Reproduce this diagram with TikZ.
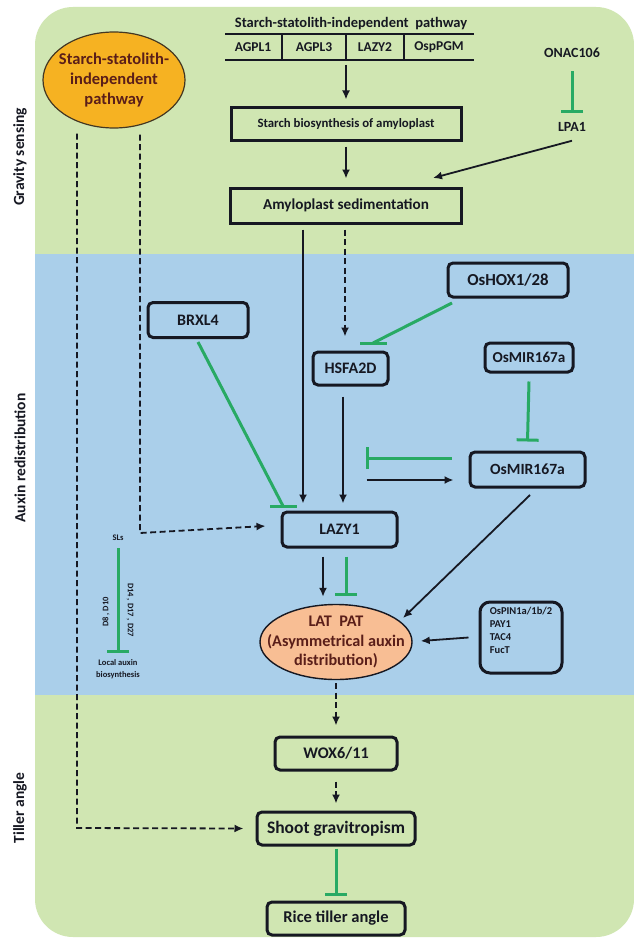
\documentclass[tikz,border=0pt]{standalone}
\usepackage{fontspec}
\setmainfont{Carlito}
\usetikzlibrary{arrows.meta,shapes.geometric,calc}
\definecolor{greenbg}{RGB}{208,230,178}
\definecolor{bluebg}{RGB}{170,207,234}
\definecolor{orangeel}{RGB}{246,178,34}
\definecolor{peach}{RGB}{248,190,148}
\definecolor{inhg}{RGB}{40,170,100}
\definecolor{ink}{RGB}{22,24,34}
\definecolor{brownt}{RGB}{90,30,25}
\tikzset{
 bx/.style={draw=ink, line width=3pt, rounded corners=5pt, inner sep=0pt, font=\bfseries\fontsize{16}{18}\selectfont, text=ink},
 sqbx/.style={bx, rounded corners=0pt},
 arr/.style={draw=ink, line width=1.8pt, -{Latex[length=9pt,width=8pt]}},
 darr/.style={arr, dash pattern=on 6pt off 3.5pt},
 inh/.style={draw=inhg, line width=3pt, -{Bar[width=22pt]}},
 inhl/.style={draw=inhg, line width=3pt},
 sidelbl/.style={font=\bfseries\fontsize{15.5}{17}\selectfont, text=ink, rotate=90},
 plain/.style={font=\bfseries\fontsize{13.5}{15}\selectfont, text=ink, inner sep=1pt},
 eltext/.style={align=center, inner sep=0pt, text=brownt},
}
\begin{document}
\begin{tikzpicture}[x=1pt,y=-1pt]
\useasboundingbox (0,0) rectangle (634,939);
\fill[white] (0,0) rectangle (634,939);
\fill[greenbg, rounded corners=38pt] (35,7) rectangle (634,937);
\fill[bluebg] (35,254) rectangle (634,695);

% side labels
\node[sidelbl] (lg) at (20,157) {Gravity sensing};
\node[sidelbl] (la) at (20,458) {Auxin redistribution};
\node[sidelbl] (lt) at (20,808) {Tiller angle};

% top table
\node[plain, font=\bfseries\fontsize{14.5}{16}\selectfont] (title) at (351,24) {Starch-statolith-independent\ \ pathway};
\draw[ink, line width=1.6pt] (225,34) -- (474,34);
\draw[ink, line width=1.6pt] (225,60) -- (474,60);
\foreach \xx in {282,346,404} \draw[ink, line width=1.6pt] (\xx,34) -- (\xx,60);
\node[plain] (c1) at (253,47.5) {AGPL1};
\node[plain] (c2) at (314,47.5) {AGPL3};
\node[plain] (c3) at (375,47.5) {LAZY2};
\node[plain] (c4) at (439,47.5) {OspPGM};
\coordinate (tblb) at (346,65);

% orange ellipse
\node[ellipse, draw=ink!80!orangeel, line width=1.2pt, fill=orangeel, minimum width=142pt, minimum height=96pt, inner sep=0pt] (sip) at (114,80) {};
\node[eltext, font=\bfseries\fontsize{16.5}{20}\selectfont] (siptext) at (sip.center) {Starch-statolith-\\independent\\pathway};

% gravity boxes
\node[sqbx, minimum width=230pt, minimum height=32pt, font=\bfseries\fontsize{12.8}{15}\selectfont] (starch) at (346,124) {Starch biosynthesis of amyloplast};
\node[sqbx, minimum width=231pt, minimum height=35pt, font=\bfseries\fontsize{15.2}{17}\selectfont] (amylo) at (346,205.5) {Amyloplast sedimentation};
\node[plain, font=\bfseries\fontsize{14}{16}\selectfont] (onac) at (572,53) {ONAC106};
\node[plain, font=\bfseries\fontsize{14}{16}\selectfont] (lpa) at (572,127) {LPA1};

% auxin boxes
\node[bx, minimum width=120pt, minimum height=34pt, font=\bfseries\fontsize{16.8}{18}\selectfont] (hox) at (508,280) {OsHOX1/28};
\node[bx, minimum width=100pt, minimum height=35pt] (brx) at (198,320) {BRXL4};
\node[bx, minimum width=75pt, minimum height=33pt] (hsf) at (350.5,368.5) {HSFA2D};
\node[bx, minimum width=88pt, minimum height=29pt, font=\bfseries\fontsize{15.2}{17}\selectfont] (mirt) at (529,357.5) {OsMIR167a};
\node[bx, minimum width=115pt, minimum height=35pt, font=\bfseries\fontsize{15.6}{17}\selectfont] (mirl) at (527.5,469.5) {OsMIR167a};
\node[bx, minimum width=115pt, minimum height=35pt] (lazy) at (339.5,529.5) {LAZY1};
\node[ellipse, draw=ink, line width=1.4pt, fill=peach, minimum width=152pt, minimum height=75pt, inner sep=0pt] (lat) at (336,642) {};
\node[eltext, font=\bfseries\fontsize{16.2}{19.5}\selectfont] (lattext) at (lat.center) {LAT\ \ PAT\\(Asymmetrical auxin\\distribution)};
\node[bx, rounded corners=10pt, minimum width=82pt, minimum height=71pt, align=left,
      font=\bfseries\fontsize{10.5}{13}\selectfont] (pin) at (521,637.5)
      {OsPIN1a/1b/2\\PAY1\\TAC4\\FucT\\[-2pt]\strut};

% SLs
\node[plain, font=\bfseries\fontsize{8.5}{10}\selectfont] (sls) at (118,538) {SLs};
\node[plain, align=center, font=\bfseries\fontsize{8.5}{12}\selectfont] (lab) at (118,669) {Local auxin\\biosynthesis};
\node[plain, rotate=90, font=\bfseries\fontsize{8.5}{10}\selectfont] (d8) at (106,612) {D8 , D10};
\node[plain, rotate=-90, font=\bfseries\fontsize{8.5}{10}\selectfont] (d14) at (130,610) {D14 , D17 , D27};
\coordinate (slsb) at (118,548);
\coordinate (slse) at (118,653);
\draw[inh] (slsb) -- (slse);

% tiller boxes
\node[bx, minimum width=122pt, minimum height=33pt, font=\bfseries\fontsize{16.2}{18}\selectfont] (wox) at (336,753.5) {WOX6/11};
\node[bx, minimum width=158pt, minimum height=33pt, font=\bfseries\fontsize{17.5}{19}\selectfont] (shoot) at (336,828.5) {Shoot gravitropism};
\node[bx, minimum width=138pt, minimum height=33pt, font=\bfseries\fontsize{16.5}{18}\selectfont] (rice) at (336,918.5) {Rice tiller angle};

% --- connectors: gravity sensing
\draw[arr] (tblb) -- ([yshift=7pt]starch.north);
\draw[arr] ([yshift=-5pt]starch.south) -- ([yshift=8pt]amylo.north);
\draw[inh] ([yshift=-12pt]onac.south) -- ([yshift=8pt]lpa.north);
\coordinate (lpaend) at (433,178);
\draw[arr] ([yshift=-8pt]lpa.south) -- (lpaend);

% --- connectors: auxin redistribution
\draw[arr] ([xshift=-43pt,yshift=-5pt]amylo.south) -- ([xshift=-36.5pt,yshift=7pt]lazy.north);
\draw[darr] ([xshift=-1pt,yshift=-5pt]amylo.south) -- ([xshift=-5.5pt,yshift=14pt]hsf.north);
\coordinate (hoxs) at (452,303);
\coordinate (hoxe) at (373,343);
\draw[inhl] (hoxs) -- (hoxe);
\draw[inhl] ([xshift=-13pt]hoxe) -- ([xshift=14pt]hoxe);
\coordinate (brxs) at (198,342);
\coordinate (brxe) at (283,506);
\draw[inhl] (brxs) -- (brxe);
\draw[inhl] ([xshift=-13pt]brxe) -- ([xshift=14pt]brxe);
\draw[arr] ([xshift=-7.5pt,yshift=-10pt]hsf.south) -- ([xshift=3.5pt,yshift=7pt]lazy.north);
\draw[inh] ([yshift=-8pt]mirt.south) -- ([yshift=9pt]mirl.north);
\draw[inh] ([xshift=-17pt,yshift=11.5pt]mirl.west) -- ([xshift=-103pt,yshift=11.5pt]mirl.west);
\draw[arr] ([xshift=-102pt,yshift=-10.5pt]mirl.west) -- ([xshift=-15pt,yshift=-10.5pt]mirl.west);
\coordinate (mirls) at (530,495);
\coordinate (late) at (403,618);
\draw[arr] (mirls) -- (late);
\draw[arr] ([xshift=-16.5pt,yshift=-8pt]lazy.south) -- ([xshift=-13pt,yshift=7pt]lat.north);
\draw[inh] ([xshift=6.5pt,yshift=-8pt]lazy.south) -- ([xshift=10pt,yshift=8pt]lat.north);
\draw[arr] ([xshift=-10pt]pin.west) -- ([xshift=8pt,yshift=1pt]lat.east);

% --- left dashed paths
\draw[darr] ([xshift=-37pt,yshift=-5pt]sip.south) -- (77,828) -- ([xshift=-12pt]shoot.west);
\draw[darr] ([xshift=26pt,yshift=-6pt]sip.south) -- (140,533) -- ([xshift=-15pt,yshift=3.5pt]lazy.west);

% --- tiller angle
\draw[darr] ([yshift=-3pt]lat.south) -- ([yshift=10pt]wox.north);
\draw[darr] ([yshift=-10pt]wox.south) -- ([yshift=7pt]shoot.north);
\draw[inh] ([yshift=-2pt]shoot.south) -- ([yshift=5pt]rice.north);
\end{tikzpicture}
\end{document}
